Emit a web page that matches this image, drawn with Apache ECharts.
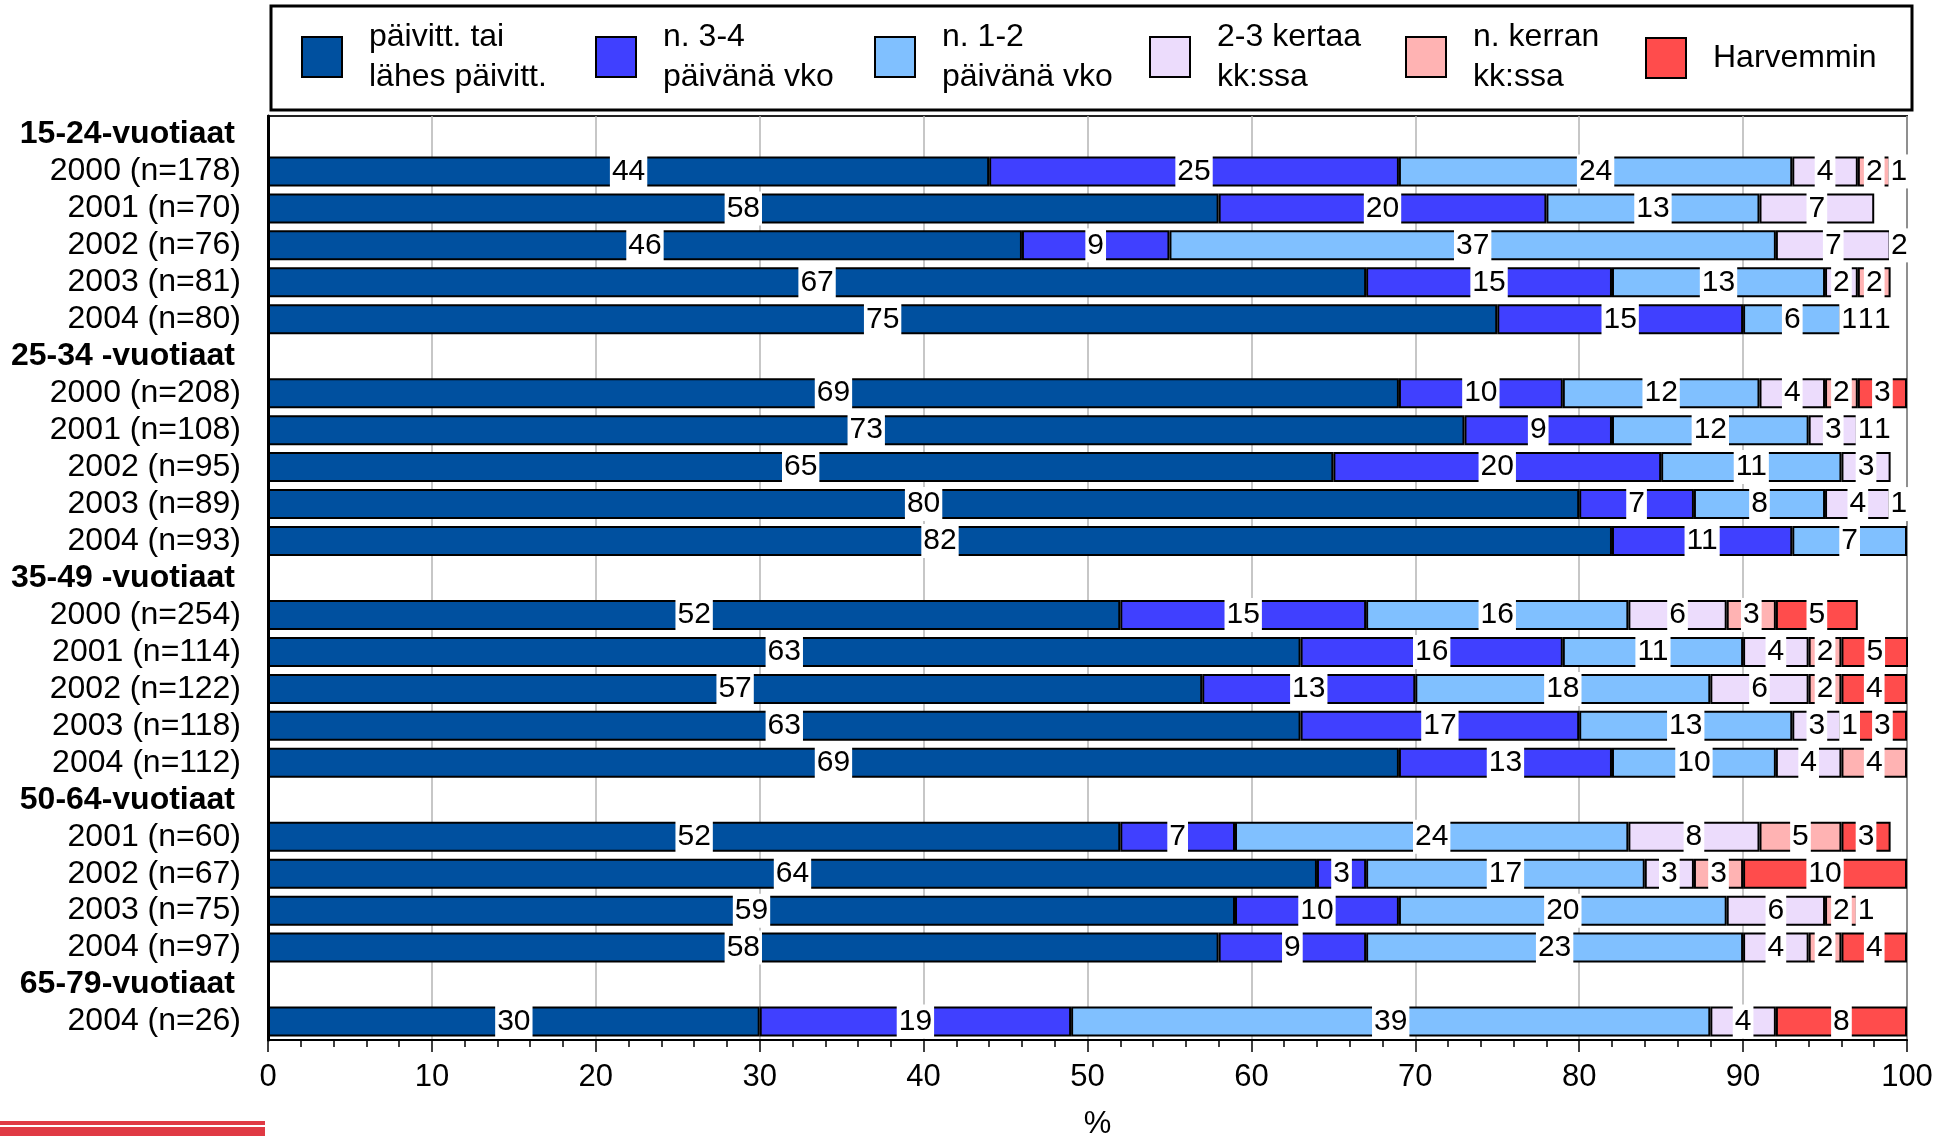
<!DOCTYPE html>
<html>
<head>
<meta charset="utf-8">
<script src="https://cdn.jsdelivr.net/npm/echarts@6/dist/echarts.min.js"></script>
<style>
html,body{margin:0;padding:0;background:#fff;}
#chart{width:1957px;height:1136px;}
</style>
</head>
<body>
<div id="chart"></div>
<script>
// ---- Data ----
const categories = [
  '15-24-vuotiaat','2000 (n=178)','2001 (n=70)','2002 (n=76)','2003 (n=81)','2004 (n=80)',
  '25-34 -vuotiaat','2000 (n=208)','2001 (n=108)','2002 (n=95)','2003 (n=89)','2004 (n=93)',
  '35-49 -vuotiaat','2000 (n=254)','2001 (n=114)','2002 (n=122)','2003 (n=118)','2004 (n=112)',
  '50-64-vuotiaat','2001 (n=60)','2002 (n=67)','2003 (n=75)','2004 (n=97)',
  '65-79-vuotiaat','2004 (n=26)'
];
const seriesNames = [
  'päivitt. tai\nlähes päivitt.',
  'n. 3-4\npäivänä vko',
  'n. 1-2\npäivänä vko',
  '2-3 kertaa\nkk:ssa',
  'n. kerran\nkk:ssa',
  'Harvemmin'
];
const daily  = [null,44,58,46,67,75, null,69,73,65,80,82, null,52,63,57,63,69, null,52,64,59,58, null,30];
const days34 = [null,25,20,9,15,15,  null,10,9,20,7,11,   null,15,16,13,17,13, null,7,3,10,9,    null,19];
const days12 = [null,24,13,37,13,6,  null,12,12,11,8,7,   null,16,11,18,13,10, null,24,17,20,23, null,39];
const month23 = [null,4,7,7,2,1,     null,4,3,3,4,0,      null,6,4,6,3,4,      null,8,3,6,4,     null,4];
const monthOnce = [null,2,0,2,2,1,   null,2,1,0,1,0,      null,3,2,2,1,4,      null,5,3,2,2,     null,0];
const rarer  = [null,1,0,0,0,1,      null,3,1,0,0,0,      null,5,5,4,3,0,      null,3,10,1,4,    null,8];
const xTicks = [0,10,20,30,40,50,60,70,80,90,100];

// ---- Styles ----
const colors = ['#00509F','#4040FF','#80C0FF','#ECDCFC','#FFB3B3','#FF4C4C'];
const FONT = 'Liberation Sans, Arial, sans-serif';
const allValues = [daily, days34, days12, month23, monthOnce, rarer];
const isHeader = (c) => /vuotiaat$/.test(c);

const series = allValues.map((arr, i) => ({
  name: seriesNames[i],
  type: 'bar',
  stack: 'total',
  barWidth: 30,
  clip: true,
  data: arr.map(v => (v === null || v === 0) ? '-' : v),
  itemStyle: { color: colors[i], borderColor: '#000', borderWidth: 2 },
  label: {
    show: true, position: 'inside', color: '#000', fontSize: 30, fontFamily: FONT,
    backgroundColor: '#fff', padding: [3, 2, 1, 2], lineHeight: 30
  },
  emphasis: { disabled: true }
}));

const legendLefts = [301, 595, 874, 1149, 1405, 1645];
const legends = seriesNames.map((n, i) => ({
  data: [n],
  left: legendLefts[i],
  top: i === 5 ? 37 : 17,
  padding: 0,
  icon: 'rect',
  itemWidth: 40,
  itemHeight: 40,
  selectedMode: false,
  itemStyle: { borderColor: '#000', borderWidth: 2 },
  textStyle: { fontSize: 32, lineHeight: 40, color: '#000', fontFamily: FONT, padding: [0, 0, 0, 22] }
}));

const chart = echarts.init(document.getElementById('chart'), null, { renderer: 'canvas' });
chart.setOption({
  animation: false,
  backgroundColor: '#fff',
  textStyle: { fontFamily: FONT },
  legend: legends,
  grid: { left: 268, right: 50, top: 116, bottom: 96, show: true, borderColor: '#222', borderWidth: 2,
    containLabel: false, outerBoundsMode: 'none' },
  xAxis: {
    type: 'value', min: 0, max: 100, interval: 10,
    name: '%', nameLocation: 'middle', nameGap: 69,
    nameTextStyle: { fontSize: 31, color: '#000', fontFamily: FONT, padding: [0, 0, 0, 20] },
    axisLine: { show: true, lineStyle: { color: '#000', width: 2 } },
    axisTick: { show: true, length: 12, lineStyle: { color: '#000', width: 1.5 } },
    minorTick: { show: true, splitNumber: 5, length: 7, lineStyle: { color: '#000', width: 1.5 } },
    axisLabel: { fontSize: 31, color: '#000', margin: 22, fontFamily: FONT,
      formatter: v => xTicks.indexOf(v) >= 0 ? String(v) : '' },
    splitLine: { show: true, lineStyle: { color: '#b4b4b4', width: 1.5 } }
  },
  yAxis: {
    type: 'category', data: categories, inverse: true,
    axisLine: { show: true, lineStyle: { color: '#000', width: 3 } },
    axisTick: { show: false },
    splitLine: { show: false },
    axisLabel: {
      margin: 27, color: '#000',
      formatter: v => isHeader(v) ? '{h|' + v + '}' : '{n|' + v + '}',
      rich: {
        h: { fontSize: 32, fontWeight: 'bold', color: '#000', fontFamily: FONT, padding: [0, 6, 0, 0] },
        n: { fontSize: 32, color: '#000', fontFamily: FONT }
      }
    }
  },
  graphic: [
    { type: 'rect', z: -1, shape: { x: 271, y: 6, width: 1641, height: 104 },
      style: { fill: '#fff', stroke: '#000', lineWidth: 3 } },
    { type: 'rect', shape: { x: 0, y: 1121, width: 265, height: 15 }, style: { fill: '#E03A44' } },
    { type: 'rect', shape: { x: 0, y: 1125, width: 265, height: 2 }, style: { fill: '#fff' } }
  ],
  series: series
});
</script>
</body>
</html>
